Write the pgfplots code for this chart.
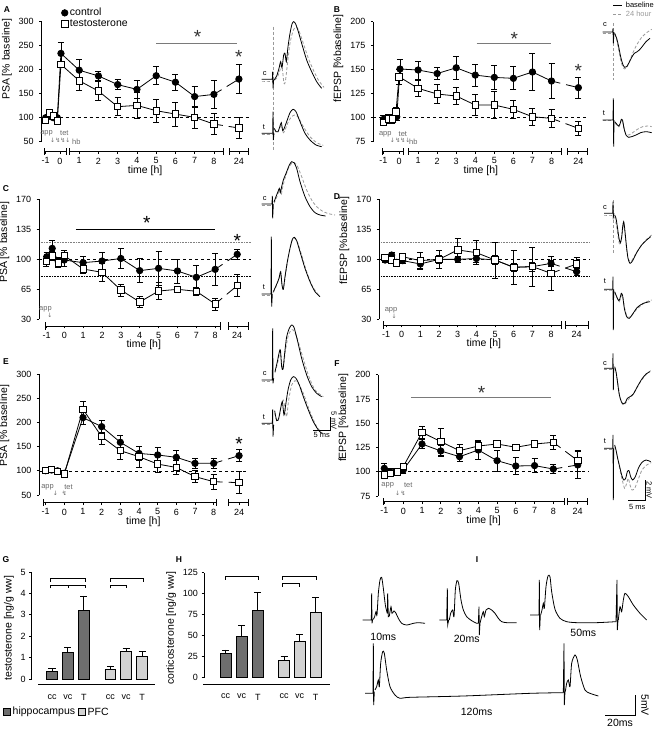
\documentclass[border=0pt]{standalone}
\usepackage{fontspec}
\setmainfont{Liberation Sans}
\newfontfamily\symf{DejaVu Sans}
\usepackage{pgfplots}
\pgfplotsset{compat=1.18}
\definecolor{dkbar}{HTML}{6E6E6E}
\definecolor{ltbar}{HTML}{D2D2D2}
\definecolor{annot}{HTML}{6A6A6A}
\definecolor{sig}{HTML}{7A7A7A}
\definecolor{trc}{HTML}{9A9A9A}
\newcommand\tks{\fontsize{9}{10}\selectfont}
\newcommand\lbs{\fontsize{10.5}{11}\selectfont}
\newcommand\lgs{\fontsize{10.5}{11}\selectfont}
\newcommand\ans{\fontsize{7.5}{8}\selectfont}
\newcommand\pls{\fontsize{8.5}{9}\selectfont\bfseries}
\newcommand\str{\fontsize{19}{19}\selectfont}
\pgfplotsset{
 panel/.style={scale only axis, clip=false, axis x line=bottom, axis y line=left,
   x axis line style={draw=none,-}, y axis line style={draw=none,-},
   tick align=outside, major tick length=2.5pt, tick style={black, line width=0.7pt},
   tick label style={font=\tks}, label style={font=\lbs},
   yticklabel style={xshift=-2pt},
   /pgf/number format/assume math mode=true,
   xlabel={time [h]}, xlabel style={yshift=5pt}, minor tick num=0},
 ctl/.style={black, line width=0.8pt, mark=*, mark size=3.2pt, mark options={solid, fill=black},
   error bars/y dir=both, error bars/y explicit,
   error bars/error bar style={line width=0.75pt, black, solid},
   error bars/error mark options={rotate=90, mark size=3pt, line width=0.75pt, black}},
 tst/.style={black, line width=0.8pt, mark=square*, mark size=3.2pt, mark options={solid, fill=white},
   error bars/y dir=both, error bars/y explicit,
   error bars/error bar style={line width=0.75pt, black, solid},
   error bars/error mark options={rotate=90, mark size=3pt, line width=0.75pt, black}},
 conn/.style={black, line width=0.8pt, no marks, dash pattern=on 9pt off 6pt on 60pt, forget plot},
 trace/.style={scale only axis, hide axis, clip=false, x=0.33333pt, y=0.33333pt, y dir=reverse},
 sol/.style={black, line width=0.8pt, no marks, smooth, tension=0.45},
 art/.style={black, line width=0.8pt, no marks},
 dsh/.style={trc, line width=0.8pt, no marks, densely dashed, smooth, tension=0.45},
 bars/.style={scale only axis, clip=false, axis x line=bottom, axis y line=left,
   x axis line style={draw=none,-}, y axis line style={draw=none,-},
   tick align=outside, major tick length=2.5pt, tick style={black, line width=0.7pt},
   x tick style={draw=none}, tick label style={font=\tks}, label style={font=\lbs},
   xticklabel style={yshift=-4pt},
   /pgf/number format/assume math mode=true, minor tick num=0},
 bar/.style={ybar, bar width=10.8pt, bar shift=0pt, draw=black, line width=0.8pt,
   error bars/y dir=plus, error bars/y explicit,
   error bars/error bar style={line width=0.8pt, black},
   error bars/error mark options={rotate=90, mark size=3.5pt, line width=0.8pt, black}},
}
\begin{document}
\begin{tikzpicture}[x=1pt,y=1pt]

% ---------------- Panel A
\begin{axis}[panel, at={(41.7pt,577.3pt)}, anchor=south west, x=19.24pt, y=0.48pt,
  xmin=-0.95, xmax=9.8, ymin=29.2, ymax=300,
  xtick={-0.745,0,1,2,3,4,5,6,7,8,9.3}, xticklabels={-1,0,1,2,3,4,5,6,7,8,24},
  ytick={50,100,...,300}, ylabel={PSA [\% baseline]}, ylabel style={at={(ticklabel cs:0.71)}},
  legend style={at={(axis description cs:0.095,1.12)}, anchor=north west, draw=none, fill=none, font=\lgs, inner sep=0pt, row sep=-1.5pt},
  legend cell align=left,
  legend image code/.code={\draw[#1] plot coordinates {(0.12cm,0cm)};}]
\draw[dashed, line width=0.6pt] (axis cs:-0.95,100) -- (axis cs:9.8,100);
\draw[line width=0.8pt] (axis cs:-0.95,50) -- (axis cs:-0.95,300);
\draw[line width=0.8pt, |-|] (axis cs:-0.83,29.2) -- (axis cs:0.35,29.2);
\draw[line width=0.8pt, |-|] (axis cs:0.47,29.2) -- (axis cs:8.52,29.2);
\draw[line width=0.8pt, |-|] (axis cs:8.8,29.2) -- (axis cs:9.79,29.2);
\draw[sig, line width=1.1pt] (axis cs:5,255) -- (axis cs:9.22,255);
\node[font=\str, text=black!80] at (axis cs:7.15,268) {*};
\node[font=\str, text=black!80] at (axis cs:9.3,227) {*};
\node[font=\ans, text=annot] at (axis cs:-0.7,67) {app};
\node[font=\ans, text=annot] at (axis cs:0.23,67) {tet};
\node[font=\symf\fontsize{6}{6}\selectfont, text=annot] at (axis cs:-0.38,53) {↓};
\node[font=\symf\fontsize{6}{6}\selectfont, text=annot] at (axis cs:0.15,53) {↯↯↓};
\node[font=\ans, text=annot] at (axis cs:0.85,50) {hb};
\addplot[conn] coordinates {(8,148.6) (9.3,180.5)};
\addplot[conn] coordinates {(8,86.8) (9.3,78.5)};
\addplot[ctl] coordinates {(-0.745,100)+-(0,4) (-0.555,103)+-(0,4) (-0.35,100)+-(0,4) (-0.14,100)+-(0,4) (0.05,234)+-(0,22) (1,199)+-(0,22) (2,187)+-(0,9) (3,169)+-(0,11) (4,159)+-(0,19) (5,187.5)+-(0,19) (6,174)+-(0,17) (7,144)+-(0,22) (8,148.6)+-(0,30)};
\addlegendentry{control}
\addplot[tst] coordinates {(-0.745,94)+-(0,3) (-0.555,110)+-(0,4) (-0.35,104)+-(0,4) (-0.14,93)+-(0,3) (0.05,211)+-(0,6) (1,177)+-(0,20) (2,155.5)+-(0,20) (3,123)+-(0,19) (4,125.7)+-(0,27) (5,114.6)+-(0,24) (6,107.6)+-(0,25) (7,100.7)+-(0,22) (8,86.8)+-(0,22)};
\addlegendentry{testosterone}
\addplot[ctl, forget plot] coordinates {(9.3,180.5)+-(0,30)};
\addplot[tst, forget plot] coordinates {(9.3,78.5)+-(0,22)};
\end{axis}

% ---------------- Panel B
\begin{axis}[panel, at={(373.3pt,577.3pt)}, anchor=south west, x=19.06pt, y=0.96pt,
  xmin=-1.35, xmax=9.94, ymin=64.6, ymax=200,
  xtick={-0.82,0,1,2,3,4,5,6,7,8,9.41}, xticklabels={-1,0,1,2,3,4,5,6,7,8,24},
  ytick={75,100,...,200}, ylabel={fEPSP [\%baseline]}, ylabel style={at={(ticklabel cs:0.715)}}]
\draw[dashed, line width=0.6pt] (axis cs:-1.35,100) -- (axis cs:9.94,100);
\draw[line width=0.8pt] (axis cs:-1.35,75) -- (axis cs:-1.35,200);
\draw[line width=0.8pt, |-|] (axis cs:-0.91,64.6) -- (axis cs:0.26,64.6);
\draw[line width=0.8pt, |-|] (axis cs:0.49,64.6) -- (axis cs:8.53,64.6);
\draw[line width=0.8pt, |-|] (axis cs:8.83,64.6) -- (axis cs:9.93,64.6);
\draw[sig, line width=1.1pt] (axis cs:4.07,177.4) -- (axis cs:7.97,177.4);
\node[font=\str, text=black!80] at (axis cs:6.05,182) {*};
\node[font=\str, text=black!80] at (axis cs:9.41,149) {*};
\node[font=\ans, text=annot] at (axis cs:-0.72,83) {app};
\node[font=\ans, text=annot] at (axis cs:0.2,83) {tet};
\node[font=\symf\fontsize{6}{6}\selectfont, text=annot] at (axis cs:-0.35,76) {↓};
\node[font=\symf\fontsize{6}{6}\selectfont, text=annot] at (axis cs:0.2,76) {↯↯↓};
\node[font=\ans, text=annot] at (axis cs:0.75,74.5) {hb};
\addplot[conn] coordinates {(8,138.2) (9.41,131.3)};
\addplot[conn] coordinates {(8,99.3) (9.41,88.9)};
\addplot[ctl] coordinates {(-0.82,98.3)+-(0,4) (-0.56,99.3)+-(0,4) (-0.30,99.3)+-(0,4) (-0.12,101)+-(0,4) (0.05,150.7)+-(0,10) (1,149.7)+-(0,9.5) (2,146)+-(0,6) (3,152)+-(0,12) (4,144.4)+-(0,11.5) (5,142)+-(0,12) (6,141)+-(0,12) (7,147.6)+-(0,19) (8,138.2)+-(0,18)};
\addplot[tst] coordinates {(-0.82,95)+-(0,3) (-0.56,98.6)+-(0,4) (-0.35,98.6)+-(0,4) (-0.16,106)+-(0,5) (0.0,142.7)+-(0,8) (1,130.6)+-(0,8.5) (2,124.7)+-(0,10) (3,122.6)+-(0,9) (4,113.2)+-(0,11) (5,113.2)+-(0,14) (6,108.7)+-(0,9) (7,101)+-(0,9) (8,99.3)+-(0,9)};
\addplot[ctl] coordinates {(9.41,131.3)+-(0,11)};
\addplot[tst] coordinates {(9.41,88.9)+-(0,7)};
\end{axis}

% ---------------- Panel C
\begin{axis}[panel, at={(39.2pt,403pt)}, anchor=south west, x=18.86pt, y=0.857pt,
  xmin=-1.33, xmax=9.76, ymin=22.2, ymax=170,
  xtick={-0.93,0,1,2,3,4,5,6,7,8,9.17}, xticklabels={-1,0,1,2,3,4,5,6,7,8,24},
  ytick={30,65,100,135,170}, ylabel={PSA [\% baseline]}, ylabel style={at={(ticklabel cs:0.66)}}]
\draw[densely dotted, gray, line width=0.6pt] (axis cs:-1.33,120) -- (axis cs:9.9,120);
\draw[densely dotted, black, line width=0.6pt] (axis cs:-1.33,80) -- (axis cs:9.9,80);
\draw[dashed, line width=0.6pt] (axis cs:-1.33,100) -- (axis cs:9.9,100);
\draw[line width=0.8pt] (axis cs:-1.33,30) -- (axis cs:-1.33,170);
\draw[line width=0.8pt, |-|] (axis cs:-1.02,22.2) -- (axis cs:8.3,22.2);
\draw[line width=0.8pt, |-|] (axis cs:8.7,22.2) -- (axis cs:9.76,22.2);
\draw[black, line width=0.9pt] (axis cs:0.62,135) -- (axis cs:8.0,135);
\node[font=\str] at (axis cs:4.37,143) {*};
\node[font=\str] at (axis cs:9.17,122) {*};
\node[font=\ans, text=annot] at (axis cs:-1.0,42) {app};
\node[font=\symf\fontsize{6}{6}\selectfont, text=annot] at (axis cs:-0.76,35) {↓};
\addplot[conn] coordinates {(8,88.3) (9.17,105.8)};
\addplot[conn] coordinates {(8,47.9) (9.17,69.3)};
\addplot[ctl] coordinates {(-0.93,103)+-(0,5) (-0.64,112.8)+-(0,9) (-0.32,97.3)+-(0,5) (0,99.2)+-(0,8) (1,96.1)+-(0,7) (2,98)+-(0,10) (3,101)+-(0,12) (4,86.8)+-(0,14) (5,89.5)+-(0,20) (6,86.4)+-(0,14) (7,79)+-(0,14) (8,88.3)+-(0,19)};
\addplot[tst] coordinates {(-0.95,97.3)+-(0,6) (-0.64,104)+-(0,5) (-0.32,96)+-(0,5) (0.0,104.3)+-(0,6) (1,88.7)+-(0,5) (2,84.8)+-(0,10) (3,64.2)+-(0,7) (4,50.2)+-(0,6) (5,63)+-(0,10) (6,65)+-(0,4) (7,62.7)+-(0,5) (8,47.9)+-(0,7)};
\addplot[ctl] coordinates {(9.17,105.8)+-(0,6)};
\addplot[tst] coordinates {(9.17,69.3)+-(0,13)};
\end{axis}

% ---------------- Panel D
\begin{axis}[panel, at={(379.3pt,404pt)}, anchor=south west, x=18.67pt, y=0.857pt,
  xmin=-1.2, xmax=10.0, ymin=23.4, ymax=170,
  xtick={-0.84,0,1,2,3,4,5,6,7,8,9.37}, xticklabels={-1,0,1,2,3,4,5,6,7,8,24},
  ytick={30,65,100,135,170}, ylabel={fEPSP [\%baseline]}, ylabel style={at={(ticklabel cs:0.67)}}]
\draw[densely dotted, gray, line width=0.6pt] (axis cs:-1.2,120) -- (axis cs:10.1,120);
\draw[densely dotted, black, line width=0.6pt] (axis cs:-1.2,80) -- (axis cs:10.1,80);
\draw[dashed, line width=0.6pt] (axis cs:-1.2,100) -- (axis cs:10.1,100);
\draw[line width=0.8pt] (axis cs:-1.2,30) -- (axis cs:-1.2,170);
\draw[line width=0.8pt, |-|] (axis cs:-0.98,23.4) -- (axis cs:8.57,23.4);
\draw[line width=0.8pt, |-|] (axis cs:8.75,23.4) -- (axis cs:10.0,23.4);
\node[font=\ans, text=annot] at (axis cs:-0.57,41) {app};
\node[font=\symf\fontsize{6}{6}\selectfont, text=annot] at (axis cs:-0.41,34) {↓};
\addplot[conn] coordinates {(8,95.3) (9.37,85.6)};
\addplot[conn] coordinates {(8,83.7) (9.37,94.6)};
\addplot[ctl] coordinates {(-0.89,99.2)+-(0,3) (-0.54,105)+-(0,3) (-0.27,96.5)+-(0,3) (0.05,98.5)+-(0,3) (1,94.6)+-(0,5) (2,100)+-(0,5) (3,100)+-(0,4) (4,101)+-(0,5) (5,99.2)+-(0,5) (6,90.7)+-(0,5) (7,91.5)+-(0,5) (8,95.3)+-(0,4)};
\addplot[tst] coordinates {(-0.89,102)+-(0,3) (-0.54,99.2)+-(0,3) (-0.27,96)+-(0,3) (0.05,103)+-(0,3) (1,98.5)+-(0,10) (2,100)+-(0,10) (3,111)+-(0,14) (4,107.8)+-(0,14) (5,99.2)+-(0,21) (6,90.7)+-(0,20) (7,91.5)+-(0,23) (8,83.7)+-(0,20)};
\addplot[ctl] coordinates {(9.37,85.6)+-(0,4)};
\addplot[tst] coordinates {(9.37,94.6)+-(0,8)};
\end{axis}

% ---------------- Panel E
\begin{axis}[panel, at={(39.3pt,226.3pt)}, anchor=south west, x=18.67pt, y=0.4835pt,
  xmin=-1.34, xmax=9.8, ymin=34.1, ymax=300,
  xtick={-1,0,1,2,3,4,5,6,7,8,9.36}, xticklabels={-1,0,1,2,3,4,5,6,7,8,24},
  ytick={50,100,...,300}, ylabel={PSA [\% baseline]}, ylabel style={at={(ticklabel cs:0.6)}}]
\draw[dashed, line width=0.6pt] (axis cs:-1.34,100) -- (axis cs:9.8,100);
\draw[line width=0.8pt] (axis cs:-1.34,50) -- (axis cs:-1.34,300);
\draw[line width=0.8pt, |-|] (axis cs:-1.12,34.1) -- (axis cs:8.16,34.1);
\draw[line width=0.8pt, |-|] (axis cs:8.79,34.1) -- (axis cs:9.86,34.1);
\node[font=\str] at (axis cs:9.36,155) {*};
\node[font=\ans, text=annot] at (axis cs:-0.9,67) {app};
\node[font=\ans, text=annot] at (axis cs:0.22,67) {tet};
\node[font=\symf\fontsize{6}{6}\selectfont, text=annot] at (axis cs:-0.48,54) {↓};
\node[font=\symf\fontsize{6}{6}\selectfont, text=annot] at (axis cs:0.0,54) {↯};
\addplot[conn] coordinates {(8,115.5) (9.36,131.4)};
\addplot[conn] coordinates {(8,77.6) (9.36,75.5)};
\addplot[ctl] coordinates {(-1,100.3)+-(0,3) (-0.68,101.7)+-(0,3) (-0.36,100)+-(0,3) (0,95)+-(0,3) (1,210)+-(0,14) (2,191.4)+-(0,12.5) (3,159)+-(0,15) (4,136)+-(0,14) (5,132.8)+-(0,15) (6,128)+-(0,14) (7,115.5)+-(0,10) (8,115.5)+-(0,10)};
\addplot[tst] coordinates {(-1,100.3)+-(0,3) (-0.68,102.4)+-(0,3) (-0.36,98.3)+-(0,3) (0,93.4)+-(0,3) (1,227.2)+-(0,16) (2,170.7)+-(0,17) (3,141.7)+-(0,18) (4,129.3)+-(0,22) (5,114)+-(0,18) (6,107)+-(0,14) (7,88)+-(0,12) (8,77.6)+-(0,15)};
\addplot[ctl] coordinates {(9.36,131.4)+-(0,12)};
\addplot[tst] coordinates {(9.36,75.5)+-(0,23)};
\end{axis}

% ---------------- Panel F
\begin{axis}[panel, at={(378.3pt,227.3pt)}, anchor=south west, x=18.76pt, y=0.97pt,
  xmin=-1.33, xmax=9.9, ymin=69.1, ymax=200,
  xtick={-1.01,0,1,2,3,4,5,6,7,8,9.3}, xticklabels={-1,0,1,2,3,4,5,6,7,8,24},
  ytick={75,100,...,200}, ylabel={fEPSP [\%baseline]}, ylabel style={at={(ticklabel cs:0.66)}}]
\draw[dashed, line width=0.6pt] (axis cs:-1.33,100) -- (axis cs:9.9,100);
\draw[line width=0.8pt] (axis cs:-1.33,75) -- (axis cs:-1.33,200);
\draw[line width=0.8pt, |-|] (axis cs:-1.07,69.1) -- (axis cs:8.6,69.1);
\draw[line width=0.8pt, |-|] (axis cs:8.74,69.1) -- (axis cs:9.86,69.1);
\draw[sig, line width=1.1pt] (axis cs:0.41,176.7) -- (axis cs:7.87,176.7);
\node[font=\str, text=black!80] at (axis cs:4.17,181) {*};
\node[font=\ans, text=annot] at (axis cs:-0.83,86) {app};
\node[font=\ans, text=annot] at (axis cs:0.27,86) {tet};
\node[font=\symf\fontsize{6}{6}\selectfont, text=annot] at (axis cs:-0.3,78) {↓};
\node[font=\symf\fontsize{6}{6}\selectfont, text=annot] at (axis cs:0.0,78) {↯};
\addplot[conn] coordinates {(8,102.8) (9.3,107)};
\addplot[conn] coordinates {(8,130.3) (9.3,111.4)};
\addplot[ctl] coordinates {(-1.01,103.5)+-(0,5) (-0.71,100)+-(0,3) (-0.41,100)+-(0,3) (0,101.8)+-(0,3) (1,128.6)+-(0,5) (2,121.4)+-(0,6) (3,115.5)+-(0,5) (4,122.4)+-(0,9.5) (5,111.4)+-(0,11) (6,105.9)+-(0,9) (7,106.3)+-(0,7) (8,102.8)+-(0,5)};
\addplot[tst] coordinates {(-1.01,96.6)+-(0,3) (-0.67,98.4)+-(0,3) (-0.3,100)+-(0,3) (0,105.2)+-(0,3) (1,140.6)+-(0,6) (2,131)+-(0,14) (3,121.7)+-(0,6) (4,126.5)+-(0,5) (5,128.6)+-(0,4) (6,125.2)+-(0,3) (7,128.6)+-(0,4) (8,130.3)+-(0,7)};
\addplot[ctl] coordinates {(9.3,107)+-(0,14)};
\addplot[tst] coordinates {(9.3,111.4)+-(0,11)};
\end{axis}

% ---------------- Left traces column (A, C, E)
\begin{axis}[trace, at={(260pt,729pt)}, anchor=north west, xmin=0, xmax=225, ymin=0, ymax=1740]
\addplot[dsh] coordinates {(5,243) (36,243)};
\addplot[trc, line width=0.8pt, densely dashed] coordinates {(40,80) (40,455)};
\addplot[dsh] coordinates {(44,240) (52,232) (60,210) (64,195) (68,215) (72,250) (76,245) (82,195) (90,130) (100,90) (108,82) (116,90) (130,130) (145,175) (160,210) (175,240) (192,262)};
\addplot[art] coordinates {(5,238) (37,238) (38,215) (39,265) (41,240)};
\addplot[sol] coordinates {(42,240) (50,228) (57,205) (62,185) (66,203) (71,165) (75,160) (79,185) (84,140) (90,100) (96,72) (101,65) (107,72) (115,95) (125,130) (140,180) (155,215) (170,245) (185,265)};
\addplot[dsh] coordinates {(5,403) (36,403)};
\addplot[dsh] coordinates {(44,388) (52,398) (60,382) (65,375) (70,398) (76,388) (85,365) (95,350) (105,345) (115,352) (130,380) (150,410) (170,428) (190,436)};
\addplot[art] coordinates {(5,400) (38,400) (39,335) (40,420) (42,400)};
\addplot[sol] coordinates {(43,385) (48,395) (54,395) (60,378) (64,368) (68,392) (73,384) (80,365) (90,338) (99,328) (108,335) (120,365) (135,400) (150,420) (168,435) (185,440)};
\node[font=\ans] at (axis cs:14,222) {c};
\node[font=\ans] at (axis cs:12,382) {t};
\addplot[dsh] coordinates {(5,617) (33,617)};
\addplot[dsh] coordinates {(42,610) (50,592) (56,575) (60,568) (64,582) (68,562) (75,535) (85,505) (95,490) (103,488) (112,498) (125,530) (140,570) (155,600) (170,620) (190,635) (210,642) (225,645)};
\addplot[art] coordinates {(5,612) (36,612) (37,588) (38,655) (40,612)};
\addplot[sol] coordinates {(42,606) (48,590) (54,575) (58,565) (61,578) (65,560) (70,540) (76,525) (82,510) (88,495) (95,485) (102,488) (110,505) (120,545) (135,590) (150,620) (165,638) (180,645) (197,648)};
\addplot[dsh] coordinates {(5,886) (30,886)};
\addplot[dsh] coordinates {(40,878) (50,855) (58,832) (62,818) (66,856) (70,866) (76,828) (85,770) (95,725) (103,714) (112,726) (125,765) (140,815) (158,860) (178,888)};
\addplot[art] coordinates {(5,882) (33,882) (34,710) (35,920) (37,882)};
\addplot[sol] coordinates {(40,875) (46,862) (52,848) (57,835) (62,815) (66,855) (70,868) (75,830) (82,785) (90,745) (97,718) (103,712) (110,722) (120,755) (135,805) (150,845) (165,875) (180,890)};
\node[font=\ans] at (axis cs:14,596) {c};
\node[font=\ans] at (axis cs:12,862) {t};
\addplot[dsh] coordinates {(5,1143) (35,1143)};
\addplot[dsh] coordinates {(45,1118) (53,1088) (58,1063) (62,1055) (66,1098) (70,1105) (76,1055) (84,1010) (92,992) (100,990) (110,1010) (125,1060) (145,1125) (165,1170) (190,1190)};
\addplot[art] coordinates {(5,1140) (37,1140) (38,985) (39,1150) (41,1135)};
\addplot[sol] coordinates {(45,1115) (52,1085) (57,1060) (61,1050) (65,1100) (69,1108) (74,1060) (80,1010) (88,985) (95,975) (102,982) (112,1020) (125,1075) (140,1125) (155,1160) (170,1180) (185,1190)};
\addplot[dsh] coordinates {(5,1273) (35,1273)};
\addplot[dsh] coordinates {(44,1240) (52,1265) (58,1250) (64,1215) (70,1200) (75,1225) (80,1250) (86,1200) (95,1155) (105,1142) (115,1150) (130,1180) (150,1235) (170,1280) (188,1300)};
\addplot[art] coordinates {(5,1270) (37,1270) (38,1228) (39,1310) (41,1275)};
\addplot[sol] coordinates {(44,1232) (50,1262) (56,1255) (62,1225) (67,1205) (72,1245) (77,1215) (84,1170) (92,1140) (100,1130) (108,1135) (118,1155) (130,1190) (145,1230) (160,1265) (175,1290) (185,1300)};
\node[font=\ans] at (axis cs:14,1120) {c};
\node[font=\ans] at (axis cs:12,1250) {t};
\draw[line width=0.8pt] (axis cs:160,1290) -- (axis cs:210,1290) -- (axis cs:210,1250);
\node[font=\ans, rotate=-90] at (axis cs:222,1262) {5 mV};
\node[font=\ans] at (axis cs:185,1306) {5 ms};
\end{axis}

% ---------------- Right traces column (B, D, F)
\begin{axis}[trace, at={(580pt,729pt)}, anchor=north west, xmin=0, xmax=234, ymin=0, ymax=1740]
\draw[black, line width=0.8pt] (axis cs:100,15) -- (axis cs:125,15);
\node[font=\ans, anchor=west] at (axis cs:127,15) {baseline};
\draw[trc, line width=0.8pt, densely dashed] (axis cs:100,42) -- (axis cs:125,42);
\node[font=\ans, anchor=west, text=trc] at (axis cs:127,42) {24 hour};
\addplot[dsh] coordinates {(68,100) (97,100)};
\addplot[trc, line width=0.8pt, densely dashed] coordinates {(100,70) (100,240)};
\addplot[dsh] coordinates {(104,102) (110,120) (116,150) (122,180) (128,200) (134,207) (140,203) (148,185) (158,160) (170,135) (185,112) (200,98) (215,88)};
\addplot[art] coordinates {(68,96) (98,96) (99,85) (100,130) (102,96)};
\addplot[sol] coordinates {(104,100) (110,115) (116,140) (122,170) (128,192) (134,202) (140,200) (147,188) (155,172) (163,160) (170,156) (178,150) (188,138) (198,125) (210,115)};
\addplot[dsh] coordinates {(68,362) (98,362)};
\addplot[dsh] coordinates {(105,368) (112,378) (118,380) (122,365) (126,360) (130,375) (137,400) (146,405) (158,398) (172,388) (188,380) (205,378) (215,380)};
\addplot[art] coordinates {(68,360) (99,360) (100,295) (101,440) (102,360)};
\addplot[sol] coordinates {(104,365) (110,372) (115,378) (120,372) (124,358) (128,362) (132,385) (138,405) (146,412) (155,410) (168,405) (182,398) (198,395) (215,398)};
\node[font=\ans] at (axis cs:75,75) {c};
\node[font=\ans] at (axis cs:72,340) {t};
\addplot[dsh] coordinates {(72,645) (96,645)};
\addplot[trc, line width=0.8pt, densely dashed] coordinates {(100,600) (100,760)};
\addplot[dsh] coordinates {(104,650) (110,680) (116,722) (120,735) (124,718) (128,690) (131,672) (135,700) (140,750) (146,780) (155,782) (168,760) (185,735) (200,718) (215,705)};
\addplot[art] coordinates {(72,640) (98,640) (99,605) (100,650) (102,640)};
\addplot[sol] coordinates {(104,645) (108,655) (112,680) (117,715) (121,728) (125,712) (128,680) (131,665) (134,685) (139,735) (144,775) (150,790) (158,782) (170,758) (185,735) (200,720) (212,710)};
\addplot[dsh] coordinates {(72,870) (97,870)};
\addplot[dsh] coordinates {(104,878) (112,895) (118,905) (122,893) (126,885) (130,900) (136,935) (144,952) (154,948) (168,930) (185,915) (200,905) (215,900)};
\addplot[art] coordinates {(72,868) (98,868) (99,830) (100,990) (101,868)};
\addplot[sol] coordinates {(104,875) (110,890) (116,902) (120,895) (124,880) (128,888) (133,925) (140,950) (148,955) (158,942) (172,922) (190,910) (210,905)};
\node[font=\ans] at (axis cs:75,622) {c};
\node[font=\ans] at (axis cs:75,842) {t};
\addplot[dsh] coordinates {(72,1108) (97,1108)};
\addplot[dsh] coordinates {(104,1104) (110,1125) (115,1160) (120,1192) (126,1210) (132,1215) (140,1205) (148,1195) (158,1185) (170,1165) (185,1140) (200,1122) (212,1112)};
\addplot[art] coordinates {(72,1105) (98,1105) (99,1060) (100,1170) (101,1105)};
\addplot[sol] coordinates {(104,1100) (108,1115) (113,1150) (118,1185) (124,1205) (130,1212) (136,1208) (142,1195) (150,1190) (160,1182) (172,1160) (185,1138) (198,1122) (210,1115)};
\addplot[dsh] coordinates {(72,1348) (97,1348)};
\addplot[dsh] coordinates {(104,1340) (110,1360) (116,1390) (122,1420) (128,1445) (134,1465) (140,1450) (145,1435) (150,1455) (156,1470) (164,1465) (174,1440) (186,1410) (200,1395) (214,1388)};
\addplot[art] coordinates {(72,1345) (98,1345) (99,1305) (100,1500) (101,1345)};
\addplot[sol] coordinates {(104,1335) (108,1350) (113,1375) (119,1400) (125,1425) (131,1440) (137,1435) (142,1415) (147,1412) (152,1430) (158,1440) (166,1430) (175,1405) (185,1388) (198,1380) (212,1385)};
\node[font=\ans] at (axis cs:75,1090) {c};
\node[font=\ans] at (axis cs:75,1322) {t};
\draw[line width=0.8pt] (axis cs:145,1500) -- (axis cs:195,1500) -- (axis cs:195,1440);
\node[font=\ans, rotate=-90] at (axis cs:208,1470) {2 mV};
\node[font=\ans] at (axis cs:172,1522) {5 ms};
\end{axis}

% ---------------- Panel G
\begin{axis}[bars, at={(31.7pt,44.7pt)}, anchor=south west, x=1pt, y=21.4pt,
  xmin=31.7, xmax=155, ymin=-0.25, ymax=5, ytick={0,...,5},
  xtick={52,67.8,83.8,110.3,126.2,142}, xticklabels={cc,vc,T,cc,vc,T},
  ylabel={testosterone [ng/g ww]}]
\draw[line width=0.8pt] (axis cs:31.7,0) -- (axis cs:31.7,5);
\draw[line width=0.8pt] (axis cs:38.3,-0.25) -- (axis cs:155,-0.25);
\addplot[bar, fill=dkbar] coordinates {(52,0.36) +- (0,0.11) (67.8,1.25) +- (0,0.22) (83.8,3.2) +- (0,0.68)};
\addplot[bar, fill=ltbar] coordinates {(110.3,0.45) +- (0,0.12) (126.2,1.28) +- (0,0.15) (142,1.07) +- (0,0.21)};
\end{axis}

% ---------------- Panel H
\begin{axis}[bars, at={(204pt,45pt)}, anchor=south west, x=1pt, y=0.84pt,
  xmin=204, xmax=330, ymin=-7.5, ymax=125, ytick={0,25,...,125},
  xtick={225.5,241.5,257.8,284,299.5,315.5}, xticklabels={cc,vc,T,cc,vc,T},
  ylabel={corticosterone [ng/g ww]}]
\draw[line width=0.8pt] (axis cs:204,0) -- (axis cs:204,125);
\draw[line width=0.8pt] (axis cs:203.3,-7.5) -- (axis cs:330,-7.5);
\addplot[bar, fill=dkbar] coordinates {(225.5,29) +- (0,4) (241.5,49) +- (0,13) (257.8,80) +- (0,21)};
\addplot[bar, fill=ltbar] coordinates {(284,21) +- (0,4) (299.5,43) +- (0,9) (315.5,78) +- (0,18)};
\end{axis}

\draw[line width=0.8pt] (50.7,147.3) |- (85,150.7) -- (85,147.3);
\draw[line width=0.8pt] (50.7,140.7) |- (68.3,144) -- (68.3,140.7);
\draw[line width=0.8pt] (68.3,144) -| (85,140.7);
\draw[line width=0.8pt] (110,147.3) |- (143.3,150.7) -- (143.3,147.3);
\draw[line width=0.8pt] (110,140.7) |- (126.7,144) -- (126.7,140.7);
\draw[line width=0.8pt] (225,149) |- (258.3,153) -- (258.3,149);
\draw[line width=0.8pt] (282.7,149) |- (316,153) -- (316,149);
\draw[line width=0.8pt] (282.7,142) |- (299,145.7) -- (299,142);
\filldraw[fill=dkbar, draw=black, line width=0.7pt] (3.3,14) rectangle (10.3,21);
\node[font=\lgs, anchor=west, inner sep=1pt] at (11.5,17.5) {hippocampus};
\filldraw[fill=ltbar, draw=black, line width=0.7pt] (78.3,14) rectangle (85.3,21);
\node[font=\lgs, anchor=west, inner sep=1pt] at (86.5,17.5) {PFC};

% ---------------- Panel I traces
\begin{axis}[trace, at={(330pt,149pt)}, anchor=north west, xmin=0, xmax=984, ymin=0, ymax=447]
\addplot[art] coordinates {(98,120) (124,120) (125,40) (126,130) (128,118)};
\addplot[sol] coordinates {(130,118) (134,110) (138,95) (141,105) (145,40) (150,0) (155,-8) (160,25) (166,75) (172,100)};
\addplot[art] coordinates {(172,100) (173,40) (175,110) (178,108)};
\addplot[sol] coordinates {(178,108) (183,80) (186,100) (192,93) (198,100) (205,115) (215,130) (230,135) (250,130) (265,128) (285,130)};
\addplot[art] coordinates {(328,120) (350,120) (352,25) (353,135) (356,120)};
\addplot[sol] coordinates {(358,120) (362,100) (368,90) (372,110) (376,30) (381,2) (386,10) (393,60) (400,90) (410,110) (425,122) (440,130) (445,130)};
\addplot[art] coordinates {(445,130) (447,80) (448,165) (450,130)};
\addplot[sol] coordinates {(450,130) (455,110) (460,95) (463,110) (468,90) (475,85) (485,90) (495,100) (505,115) (515,125) (530,128) (560,128)};
\addplot[art] coordinates {(600,105) (627,105) (628,0) (629,150) (631,105)};
\addplot[sol] coordinates {(632,105) (636,90) (640,70) (643,85) (648,20) (654,-12) (660,-10) (665,35) (675,88) (690,115) (710,125) (740,128) (800,128) (858,125)};
\addplot[art] coordinates {(858,125) (861,0) (862,150) (864,120)};
\addplot[sol] coordinates {(865,120) (870,80) (875,95) (880,60) (885,40) (895,50) (910,75) (930,100) (950,120)};
\addplot[art] coordinates {(105,340) (129,340) (130,190) (131,375) (133,335)};
\addplot[sol] coordinates {(135,330) (140,320) (145,300) (148,320) (152,250) (158,215) (163,220) (170,270) (180,320) (195,345) (210,355) (240,352) (400,348) (600,340) (700,338)};
\addplot[art] coordinates {(700,338) (702,190) (703,375) (705,335)};
\addplot[sol] coordinates {(706,335) (710,310) (715,300) (720,320) (725,250) (735,225) (742,240) (752,290) (765,330) (780,340) (805,348)};
\node[font=\lgs] at (axis cs:160,172) {10ms};
\node[font=\lgs] at (axis cs:410,177) {20ms};
\node[font=\lgs] at (axis cs:760,160) {50ms};
\node[font=\lgs] at (axis cs:440,395) {120ms};
\draw[line width=0.8pt] (axis cs:825,405) -- (axis cs:915,405) -- (axis cs:915,345);
\node[font=\lgs, rotate=-90] at (axis cs:945,375) {5mV};
\node[font=\lgs] at (axis cs:870,428) {20ms};
\end{axis}

\node[font=\pls] at (7,719) {A};
\node[font=\pls] at (337,719) {B};
\node[font=\pls] at (6,540.7) {C};
\node[font=\pls] at (337,532) {D};
\node[font=\pls] at (6,367.3) {E};
\node[font=\pls] at (337,365.7) {F};
\node[font=\pls] at (6,169) {G};
\node[font=\pls] at (179,169) {H};
\node[font=\pls] at (477,169) {I};
\pgfresetboundingbox
\useasboundingbox (0,0) rectangle (658,729);
\end{tikzpicture}
\end{document}
